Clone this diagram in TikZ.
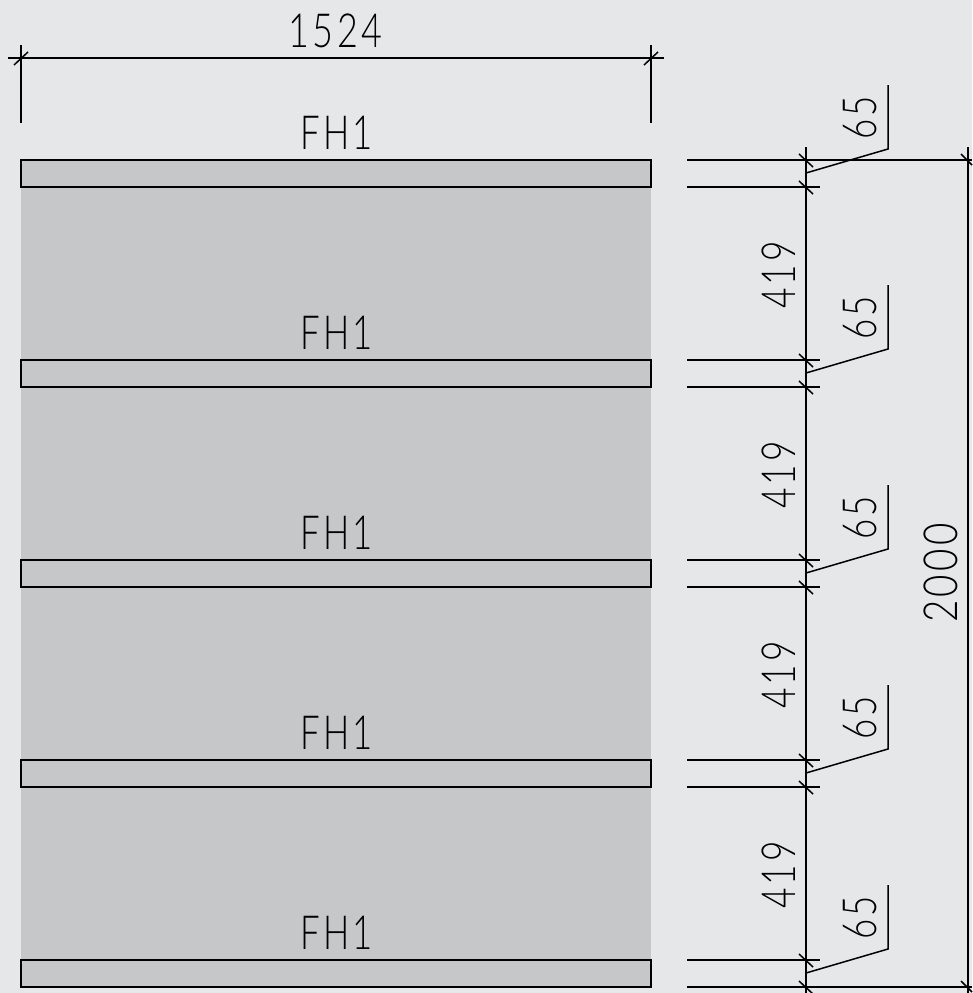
\documentclass[tikz,border=0pt]{standalone}
\usepackage{fontspec}
\setsansfont{Lato}[UprightFont={* Light},LetterSpace=9]
\renewcommand{\familydefault}{\sfdefault}
\definecolor{bgc}{HTML}{E6E7E9}
\definecolor{fillc}{HTML}{C6C7C9}
\tikzset{
  thick line/.style={line width=2.3pt,black},
  ext line/.style={line width=1.9pt,black},
  dim line/.style={line width=1.5pt,black},
  thin dim/.style={line width=1.1pt,black},
  lab/.style={inner sep=0pt,font=\fontsize{47}{47}\selectfont,text=black},
  rotlab/.style={lab,rotate=90}
}
\begin{document}
\begin{tikzpicture}[x=1pt,y=-1pt]
\useasboundingbox (0,0) rectangle (972,993);
\fill[bgc] (0,0) rectangle (972,993);
\fill[fillc] (21,160) rectangle (651,987);
% overall width dimension
\draw[dim line] (8,58) -- (664,58);
\draw[dim line] (21,45) -- (21,123);
\draw[dim line] (651,45) -- (651,123);
\draw[dim line] (14,65) -- (28,52);
\draw[dim line] (644,65) -- (658,52);
\node[lab,xscale=.765] (w) at (335.5,31) {1524};
% bars and their dimensions
\foreach \y/\n in {160/1,360/2,560/3,760/4,960/5}{
  \draw[thick line] (21,\y) rectangle (651,\y+27);
  \node[lab,xscale=.74] (fh\n) at (336.5,\y-27.5) {FH1};
  \draw[ext line] (687,\y) -- (820,\y);
  \draw[ext line] (687,\y+27) -- (820,\y+27);
  \draw[dim line] (799,\y-6) -- (813,\y+7);
  \draw[dim line] (799,\y+21) -- (813,\y+34);
  \coordinate (la\n) at (806,\y+13);
  \coordinate (lb\n) at (888,\y-11);
  \coordinate (lc\n) at (888,\y-75);
  \draw[dim line] (la\n) -- (lb\n) -- (lc\n);
  \node[rotlab,xscale=.74] (sf\n) at (860.5,\y-42) {65};
}
\foreach \y/\n in {275/1,475/2,675/3,875/4}{
  \node[rotlab,xscale=.75] (d\n) at (779,\y) {419};
}
% vertical chain
\draw[dim line] (806,147) -- (806,993);
% overall height dimension
\draw[thin dim] (820,160) -- (972,160);
\draw[thin dim] (820,987) -- (972,987);
\draw[dim line] (968,147) -- (968,993);
\draw[dim line] (961,154) -- (972,165);
\draw[dim line] (961,981) -- (972,992);
\node[rotlab,xscale=.82] (h) at (941,573) {2000};
\end{tikzpicture}
\end{document}
